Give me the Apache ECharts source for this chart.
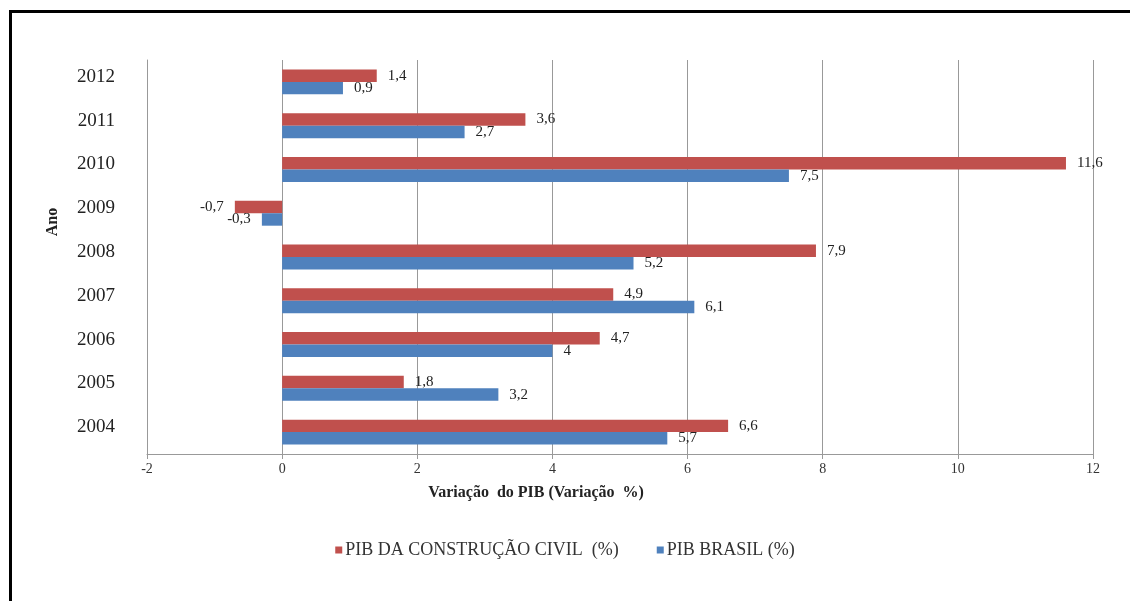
<!DOCTYPE html>
<html>
<head>
<meta charset="utf-8">
<script src="https://cdn.jsdelivr.net/npm/echarts@6/dist/echarts.min.js"></script>
<style>
  html, body { margin: 0; padding: 0; background: #fff; }
  #chart { width: 1130px; height: 601px; }
</style>
</head>
<body>
<div id="chart"></div>
<script>
// Anos (eixo de categorias, de baixo para cima)
const anos = ['2004', '2005', '2006', '2007', '2008', '2009', '2010', '2011', '2012'];
// Variação anual do PIB da construção civil (%)
const pibConstrucao = [6.6, 1.8, 4.7, 4.9, 7.9, -0.7, 11.6, 3.6, 1.4];
// Variação anual do PIB Brasil (%)
const pibBrasil = [5.7, 3.2, 4.0, 6.1, 5.2, -0.3, 7.5, 2.7, 0.9];
// Marcas do eixo de valores
const eixoMin = -2, eixoMax = 12, eixoPasso = 2;

const nomeConstrucao = 'PIB DA CONSTRUÇÃO CIVIL  (%)';
const nomeBrasil = 'PIB BRASIL (%)';

const fonte = '"Liberation Serif", "DejaVu Serif", serif';
const fmt = v => String(v).replace('.', ',');

// Rótulos ficam à esquerda quando a barra é negativa
const comRotulo = arr => arr.map(v => v < 0 ? { value: v, label: { position: 'left' } } : v);

const chart = echarts.init(document.getElementById('chart'), null, { renderer: 'canvas' });

const rotulo = {
  show: true,
  position: 'right',
  distance: 11,
  formatter: p => fmt(p.value),
  fontFamily: fonte,
  fontSize: 15,
  color: '#222'
};

chart.setOption({
  backgroundColor: '#fff',
  animation: false,
  textStyle: { fontFamily: fonte },
  graphic: [
    {
      type: 'rect',
      shape: { x: 10.5, y: 11.5, width: 1300, height: 800 },
      style: { fill: 'none', stroke: '#000', lineWidth: 3 },
      silent: true
    },
    {
      type: 'text',
      x: 53,
      y: 222,
      rotation: Math.PI / 2,
      style: {
        text: 'Ano',
        font: 'bold 16px ' + fonte,
        fill: '#222',
        align: 'center',
        verticalAlign: 'middle'
      }
    }
  ],
  title: {
    text: 'Variação  do PIB (Variação  %)',
    left: 531,
    top: 480,
    textAlign: 'center',
    textStyle: { fontFamily: fonte, fontSize: 16, fontWeight: 'bold', color: '#222' }
  },
  legend: {
    data: [nomeConstrucao, nomeBrasil],
    left: 'center',
    top: 536,
    icon: 'rect',
    itemWidth: 7,
    itemHeight: 7,
    itemGap: 38,
    textStyle: { fontFamily: fonte, fontSize: 18, color: '#333', padding: [0, 0, 0, -2] }
  },
  grid: { left: 147, right: 37, top: 60, bottom: 147, containLabel: false },
  xAxis: {
    type: 'value',
    min: eixoMin,
    max: eixoMax,
    interval: eixoPasso,
    axisLine: { show: true, lineStyle: { color: '#999', width: 1 } },
    axisTick: { show: true, length: 5, lineStyle: { color: '#999' } },
    axisLabel: { fontFamily: fonte, fontSize: 14, color: '#333', margin: 8 },
    splitLine: { show: true, lineStyle: { color: '#999', width: 1 } }
  },
  yAxis: {
    type: 'category',
    data: anos,
    axisLine: { show: true, onZero: false, lineStyle: { color: '#999', width: 1 } },
    axisTick: { show: false },
    axisLabel: {
      fontFamily: fonte, fontSize: 19, color: '#222', margin: 32,
      verticalAlign: 'bottom', lineHeight: 10
    },
    splitLine: { show: false }
  },
  series: [
    {
      name: nomeConstrucao,
      type: 'bar',
      data: comRotulo(pibConstrucao),
      itemStyle: { color: '#C0504D' },
      barGap: '0%',
      barCategoryGap: '43%',
      label: rotulo
    },
    {
      name: nomeBrasil,
      type: 'bar',
      data: comRotulo(pibBrasil),
      itemStyle: { color: '#4F81BD' },
      barGap: '0%',
      barCategoryGap: '43%',
      label: rotulo
    }
  ]
});
</script>
</body>
</html>
